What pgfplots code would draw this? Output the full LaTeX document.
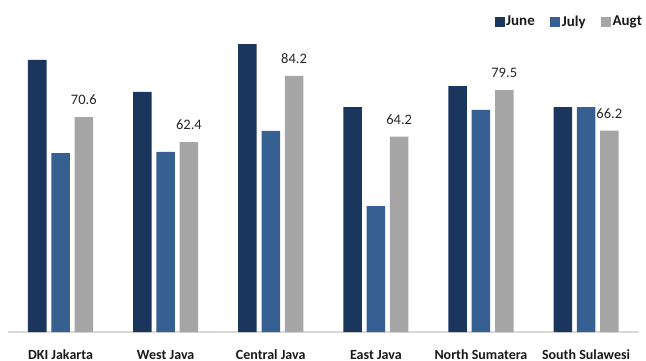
\documentclass[border=0pt]{standalone}
\usepackage{fontspec}
\setmainfont{Carlito}
\usepackage{pgfplots}
\pgfplotsset{compat=1.18}
\definecolor{cJune}{HTML}{1B365D}
\definecolor{cJuly}{HTML}{376092}
\definecolor{cAugt}{HTML}{A6A6A6}
\begin{document}
\begin{tikzpicture}
\useasboundingbox (0,0) rectangle (646bp,361bp);
\begin{axis}[
  at={(8bp,29bp)}, anchor=south west,
  scale only axis,
  width=630.6bp, height=304.3bp,
  xmin=-0.5, xmax=5.5, ymin=0, ymax=100,
  ybar=4.8bp, bar width=18.5bp,
  axis x line=bottom, axis y line=none,
  axis line style={-, draw=black!15, line width=1.2bp},
  xtick={0,1,2,3,4,5},
  xticklabels={DKI Jakarta, West Java, Central Java, East Java, North Sumatera, South Sulawesi},
  major tick length=0pt,
  xticklabel style={font=\fontsize{14bp}{16bp}\selectfont\bfseries, anchor=base, yshift=-27bp, text=black!90},
  ytick=\empty,
  clip=false,
  legend columns=3,
  legend style={at={(axis description cs:1.008,1.02)}, anchor=east, draw=none, fill=none,
    inner sep=0pt, font=\fontsize{15bp}{17bp}\selectfont\bfseries,
    /tikz/every even column/.append style={column sep=14bp},
    nodes={inner sep=1.5bp, text=black!90}},
  legend image code/.code={\fill[#1] (0bp,-5bp) rectangle (10bp,5bp);},
]
\addplot[fill=cJune, draw=none] coordinates {(0,89.4) (1,78.9) (2,94.6) (3,73.9) (4,80.8) (5,73.9)};
\addplot[fill=cJuly, draw=none] coordinates {(0,58.8) (1,59.2) (2,66.1) (3,41.4) (4,73.0) (5,73.9)};
\addplot[fill=cAugt, draw=none,
  nodes near coords,
  nodes near coords style={font=\fontsize{14.5bp}{16bp}\selectfont, text=black!85, anchor=south, inner sep=0pt, yshift=12bp,
    /pgf/number format/.cd, fixed, precision=1, fixed zerofill, assume math mode=true}]
  coordinates {(0,70.6) (1,62.4) (2,84.2) (3,64.2) (4,79.5) (5,66.2)};
\legend{June, July, Augt}
\end{axis}
\end{tikzpicture}
\end{document}
